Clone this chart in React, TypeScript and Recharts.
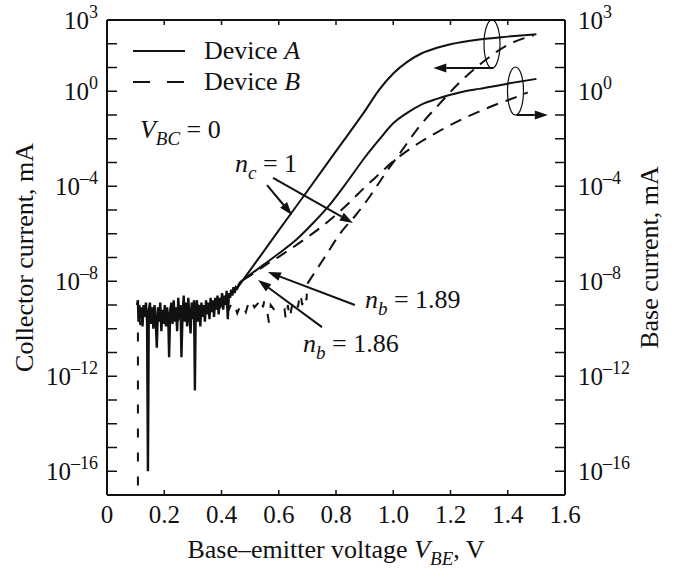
import { LineChart, Line, XAxis, YAxis, Legend, ReferenceLine, ReferenceDot } from "recharts";

const FONT = "Liberation Serif, Tinos, Noto Serif, DejaVu Serif, Times New Roman, Times, serif";
const INK = "#111";

// all currents are log10(I / mA), voltages are V_BE in volts
const aCollectorV = [0.45, 0.475, 0.55, 0.6, 0.7, 0.8, 0.9, 0.95, 1.0, 1.05, 1.1, 1.15, 1.2, 1.3, 1.4, 1.5];
const aCollectorLog = [-8.37, -7.95, -6.7, -5.86, -4.2, -2.52, -0.85, 0.05, 0.75, 1.25, 1.6, 1.82, 1.98, 2.18, 2.3, 2.4];

// device A base current: measurement noise floor first, then the n_b = 1.86 rise
const aBaseNoiseV = [
  0.105, 0.108, 0.11, 0.113, 0.117, 0.12, 0.124, 0.128, 0.132, 0.136, 0.14, 0.143, 0.146, 0.15, 0.154, 0.158,
  0.162, 0.166, 0.17, 0.174, 0.178, 0.182, 0.186, 0.19, 0.194, 0.198, 0.202, 0.206, 0.21, 0.214, 0.217, 0.221,
  0.225, 0.229, 0.233, 0.237, 0.241, 0.245, 0.249, 0.253, 0.257, 0.26, 0.264, 0.268, 0.272, 0.276, 0.28, 0.284,
  0.288, 0.292, 0.296, 0.3, 0.304, 0.307, 0.31, 0.314, 0.318, 0.322, 0.326, 0.33, 0.334, 0.338, 0.342, 0.346,
  0.35, 0.354, 0.358, 0.362, 0.366, 0.37, 0.374, 0.378, 0.382, 0.386, 0.39, 0.394, 0.398, 0.402, 0.406, 0.41,
  0.414, 0.418, 0.422, 0.426, 0.43, 0.434, 0.438, 0.442, 0.446, 0.45, 0.455, 0.46, 0.465, 0.47, 0.475,
];
const aBaseNoiseLog = [
  -9.0, -8.8, -9.7, -9.0, -9.6, -9.1, -9.9, -9.0, -9.5, -8.9, -9.7, -16.0, -9.3, -8.9, -9.8, -9.1,
  -10.0, -9.0, -9.6, -10.8, -9.1, -9.7, -8.9, -10.1, -9.2, -9.8, -9.0, -9.9, -9.1, -9.6, -11.2, -9.2,
  -8.9, -9.8, -8.8, -9.7, -9.1, -10.1, -8.7, -9.6, -9.0, -11.2, -9.4, -8.6, -9.7, -8.9, -9.9, -8.7,
  -9.5, -10.2, -8.9, -9.6, -8.8, -12.6, -9.2, -8.8, -9.7, -9.0, -9.9, -8.9, -9.5, -9.0, -9.7, -8.8,
  -9.4, -8.9, -9.6, -8.7, -9.3, -8.8, -9.5, -8.7, -9.2, -8.6, -9.4, -8.7, -9.1, -8.5, -9.2, -8.6,
  -9.0, -8.4, -9.6, -8.5, -8.7, -8.35, -8.6, -8.25, -8.5, -8.25, -8.3, -8.15, -8.05, -8.0, -7.95,
];
const aBaseV = [0.475, 0.5, 0.55, 0.6, 0.664, 0.72, 0.78, 0.84, 0.9, 0.95, 1.0, 1.05, 1.1, 1.15, 1.2, 1.25, 1.3, 1.4, 1.5];
const aBaseLog = [-7.95, -7.72, -7.28, -6.83, -6.22, -5.55, -4.75, -3.8, -2.8, -2.05, -1.35, -0.9, -0.55, -0.33, -0.15, 0.0, 0.1, 0.32, 0.52];

// device B collector current: noise floor, then the n_c = 1 rise
const bCollectorNoiseV = [
  0.108, 0.108, 0.113, 0.119, 0.126, 0.134, 0.145, 0.16, 0.175, 0.19, 0.205, 0.22, 0.235, 0.25, 0.265, 0.28,
  0.295, 0.31, 0.322, 0.335, 0.35, 0.365, 0.38, 0.395, 0.41, 0.425, 0.44, 0.455, 0.47, 0.485, 0.5, 0.515,
  0.53, 0.54, 0.545, 0.55, 0.56, 0.566, 0.572, 0.59, 0.605, 0.62, 0.625, 0.632, 0.638, 0.645, 0.66, 0.667,
  0.675, 0.682, 0.69, 0.697, 0.7,
];
const bCollectorNoiseLog = [
  -16.6, -10.0, -9.5, -10.1, -9.4, -9.7, -9.2, -9.6, -9.3, -9.7, -9.2, -9.5, -9.1, -9.6, -9.2, -9.5,
  -9.0, -9.4, -8.85, -9.3, -9.0, -9.3, -8.9, -9.1, -8.8, -9.2, -8.8, -9.35, -8.9, -9.3, -8.7, -9.1,
  -8.9, -8.65, -9.1, -8.8, -9.3, -9.75, -9.0, -9.3, -9.05, -9.15, -9.65, -9.0, -9.6, -9.1, -8.7, -9.1,
  -8.45, -9.0, -8.5, -8.8, -8.1,
];
const bCollectorV = [0.7, 0.76, 0.82, 0.87, 0.92, 0.97, 1.03, 1.09, 1.16, 1.23, 1.31, 1.4, 1.49];
const bCollectorLog = [-8.1, -7.0, -5.9, -5.2, -4.4, -3.5, -2.5, -1.5, -0.55, 0.35, 1.2, 1.95, 2.35];

const bBaseV = [0.475, 0.5, 0.55, 0.6, 0.65, 0.7, 0.75, 0.8, 0.85, 0.9, 0.95, 1.0, 1.05, 1.1, 1.15, 1.2, 1.25, 1.3, 1.35, 1.4, 1.47];
const bBaseLog = [-7.95, -7.76, -7.35, -6.97, -6.57, -6.15, -5.7, -5.2, -4.65, -4.05, -3.5, -2.95, -2.5, -2.1, -1.75, -1.42, -1.12, -0.86, -0.6, -0.38, -0.05];

const xTicks = [0, 0.2, 0.4, 0.6, 0.8, 1.0, 1.2, 1.4, 1.6];
const decadeTicks = [-17, -16, -15, -14, -13, -12, -11, -10, -9, -8, -7, -6, -5, -4, -3, -2, -1, 0, 1, 2, 3];
const labeledDecades = [3, 0, -4, -8, -12, -16];

const legendItems = [
  { letter: "A", dash: undefined as string | undefined },
  { letter: "B", dash: "17 17" },
];

// annotation arrows: [from V, from log, to V, to log]
const arrows = [
  [0.559, -3.95, 0.646, -5.21],
  [0.58, -3.65, 0.859, -5.55],
  [0.866, -9.0, 0.562, -7.61],
  [0.751, -9.93, 0.528, -7.95],
  [1.35, 0.98, 1.14, 0.98],
  [1.43, -1.0, 1.54, -1.0],
];
const ellipses = [
  [1.345, 1.99],
  [1.427, 0.01],
];
const notes = [
  { v: 0.115, log: -1.97, main: "V", sub: "BC", rest: "\u00a0=\u00a00" },
  { v: 0.447, log: -3.4, main: "n", sub: "c", rest: "\u00a0=\u00a01" },
  { v: 0.901, log: -9.13, main: "n", sub: "b", rest: "\u00a0=\u00a01.89" },
  { v: 0.685, log: -10.98, main: "n", sub: "b", rest: "\u00a0=\u00a01.86" },
];

const toPoints = (vs: number[], logs: number[]) => vs.map((v, i) => ({ v, logI: logs[i] }));

const expText = (d: number) => (d < 0 ? "\u2013" + -d : String(d));

const textStyle = { fontFamily: FONT };

const LeftTick = ({ x, y, payload }: any) => (
  <g>
    <line x1={x} y1={y} x2={x + 10} y2={y} stroke={INK} strokeWidth={1.5} />
    {labeledDecades.includes(payload.value) && (
      <text x={x - 9} y={y + 9} textAnchor="end" style={textStyle} fontSize={25} fill={INK}>
        10<tspan dy={-11} fontSize={18}>{expText(payload.value)}</tspan>
      </text>
    )}
  </g>
);

const RightTick = ({ x, y, payload }: any) => (
  <g>
    <line x1={x} y1={y} x2={x - 10} y2={y} stroke={INK} strokeWidth={1.5} />
    {labeledDecades.includes(payload.value) && (
      <text x={x + 13} y={y + 9} textAnchor="start" style={textStyle} fontSize={25} fill={INK}>
        10<tspan dy={-11} fontSize={18}>{expText(payload.value)}</tspan>
      </text>
    )}
  </g>
);

const BottomTick = ({ x, y, payload }: any) => (
  <g>
    <line x1={x} y1={y} x2={x} y2={y - 5} stroke={INK} strokeWidth={1.5} />
    <text x={x} y={y + 28} textAnchor="middle" style={textStyle} fontSize={25} fill={INK}>
      {payload.value === 0 ? "0" : Number(payload.value).toFixed(1)}
    </text>
  </g>
);

const TopTick = ({ x, y }: any) => <line x1={x} y1={y} x2={x} y2={y + 5} stroke={INK} strokeWidth={1.5} />;

const YTitle = ({ viewBox, text, baseX }: any) => {
  const cy = viewBox ? viewBox.y + viewBox.height / 2 : 257;
  return (
    <text transform={`translate(${baseX},${cy}) rotate(-90)`} textAnchor="middle" style={textStyle} fontSize={26} fill={INK}>
      {text}
    </text>
  );
};

const XTitle = ({ viewBox }: any) => {
  const cx = viewBox ? viewBox.x + viewBox.width / 2 : 336;
  return (
    <text x={cx} y={558} textAnchor="middle" style={textStyle} fontSize={26} fill={INK}>
      Base–emitter voltage <tspan fontStyle="italic">V</tspan>
      <tspan fontStyle="italic" fontSize={19} dy={7}>BE</tspan>
      <tspan dy={-7}>, V</tspan>
    </text>
  );
};

const SubText = ({ x, y, main, sub, rest }: any) => (
  <text x={x} y={y} style={textStyle} fontSize={26} fill={INK}>
    <tspan fontStyle="italic">{main}</tspan>
    <tspan fontStyle="italic" fontSize={19} dy={7}>{sub}</tspan>
    <tspan dy={-7}>{rest}</tspan>
  </text>
);

const Arrow = ({ x1, y1, x2, y2 }: any) => {
  const dx = x2 - x1;
  const dy = y2 - y1;
  const len = Math.hypot(dx, dy) || 1;
  const ux = dx / len;
  const uy = dy / len;
  const head = 13;
  const half = 4.5;
  const bx = x2 - ux * head;
  const by = y2 - uy * head;
  return (
    <g>
      <line x1={x1} y1={y1} x2={bx} y2={by} stroke={INK} strokeWidth={2} />
      <polygon
        points={`${x2},${y2} ${bx - uy * half},${by + ux * half} ${bx + uy * half},${by - ux * half}`}
        fill={INK}
      />
    </g>
  );
};

const LegendBox = () => (
  <div style={{ fontFamily: FONT, fontSize: 26, color: INK }}>
    {legendItems.map((item) => (
      <div key={item.letter} style={{ display: "flex", alignItems: "center", height: 31 }}>
        <svg width={54} height={10} style={{ display: "block" }}>
          <line x1={0} y1={5} x2={52} y2={5} stroke={INK} strokeWidth={2} strokeDasharray={item.dash} />
        </svg>
        <span style={{ marginLeft: 17 }}>
          Device <i>{item.letter}</i>
        </span>
      </div>
    ))}
  </div>
);

export default function App() {
  const solid = { stroke: INK, strokeWidth: 2, dot: false, isAnimationActive: false } as const;
  const dashed = { ...solid, strokeDasharray: "12 8" };
  return (
    <div style={{ position: "absolute", left: 0, top: 0, width: 673, height: 572, background: "#fff", fontFamily: FONT }}>
      <LineChart width={673} height={572} margin={{ top: 0, right: 0, bottom: 0, left: 0 }} style={{ fontFamily: FONT }}>
        <XAxis
          xAxisId="bottom"
          dataKey="v"
          type="number"
          domain={[0, 1.6]}
          allowDataOverflow
          ticks={xTicks}
          interval={0}
          height={77}
          tickSize={0}
          tickMargin={0}
          tick={<BottomTick />}
          tickLine={false}
          axisLine={{ stroke: INK, strokeWidth: 2 }}
          label={<XTitle />}
        />
        <XAxis
          xAxisId="top"
          orientation="top"
          dataKey="v"
          type="number"
          domain={[0, 1.6]}
          allowDataOverflow
          ticks={xTicks}
          interval={0}
          height={20}
          tickSize={0}
          tickMargin={0}
          tick={<TopTick />}
          tickLine={false}
          axisLine={{ stroke: INK, strokeWidth: 2 }}
        />
        <YAxis
          yAxisId="left"
          type="number"
          domain={[-17, 3]}
          allowDataOverflow
          ticks={decadeTicks}
          interval={0}
          width={107}
          tickSize={0}
          tickMargin={0}
          tick={<LeftTick />}
          tickLine={false}
          axisLine={{ stroke: INK, strokeWidth: 2 }}
          label={<YTitle text="Collector current, mA" baseX={33} />}
        />
        <YAxis
          yAxisId="right"
          orientation="right"
          type="number"
          domain={[-17, 3]}
          allowDataOverflow
          ticks={decadeTicks}
          interval={0}
          width={108}
          tickSize={0}
          tickMargin={0}
          tick={<RightTick />}
          tickLine={false}
          axisLine={{ stroke: INK, strokeWidth: 2 }}
          label={<YTitle text="Base current, mA" baseX={658} />}
        />
        <Legend
          layout="horizontal"
          verticalAlign="middle"
          align="center"
          wrapperStyle={{ left: 133, top: 35, width: 200, height: 62 }}
          content={() => <LegendBox />}
        />

        <Line data={toPoints(aBaseNoiseV, aBaseNoiseLog)} dataKey="logI" xAxisId="bottom" yAxisId="right" type="linear" {...solid} strokeWidth={2.4} />
        <Line data={toPoints(aBaseV, aBaseLog)} dataKey="logI" xAxisId="bottom" yAxisId="right" type="monotone" {...solid} />
        <Line data={toPoints(aCollectorV, aCollectorLog)} dataKey="logI" xAxisId="bottom" yAxisId="left" type="monotone" {...solid} />
        <Line data={toPoints(bCollectorNoiseV, bCollectorNoiseLog)} dataKey="logI" xAxisId="bottom" yAxisId="left" type="linear" {...dashed} strokeDasharray="9 15" />
        <Line data={toPoints(bCollectorV, bCollectorLog)} dataKey="logI" xAxisId="bottom" yAxisId="left" type="monotone" {...dashed} />
        <Line data={toPoints(bBaseV, bBaseLog)} dataKey="logI" xAxisId="bottom" yAxisId="right" type="monotone" {...dashed} />

        {arrows.map(([v1, l1, v2, l2], i) => (
          <ReferenceLine
            key={`arrow-${i}`}
            xAxisId="bottom"
            yAxisId="left"
            segment={[{ x: v1, y: l1 }, { x: v2, y: l2 }]}
            ifOverflow="visible"
            shape={(p: any) => <Arrow x1={p.x1} y1={p.y1} x2={p.x2} y2={p.y2} />}
          />
        ))}
        {ellipses.map(([v, l], i) => (
          <ReferenceDot
            key={`ellipse-${i}`}
            xAxisId="bottom"
            yAxisId="left"
            x={v}
            y={l}
            r={0}
            shape={(p: any) => <ellipse cx={p.cx} cy={p.cy} rx={8} ry={24} fill="none" stroke={INK} strokeWidth={1.2} />}
          />
        ))}
        {notes.map((n, i) => (
          <ReferenceDot
            key={`note-${i}`}
            xAxisId="bottom"
            yAxisId="left"
            x={n.v}
            y={n.log}
            r={0}
            shape={(p: any) => <SubText x={p.cx} y={p.cy} main={n.main} sub={n.sub} rest={n.rest} />}
          />
        ))}
      </LineChart>
    </div>
  );
}
